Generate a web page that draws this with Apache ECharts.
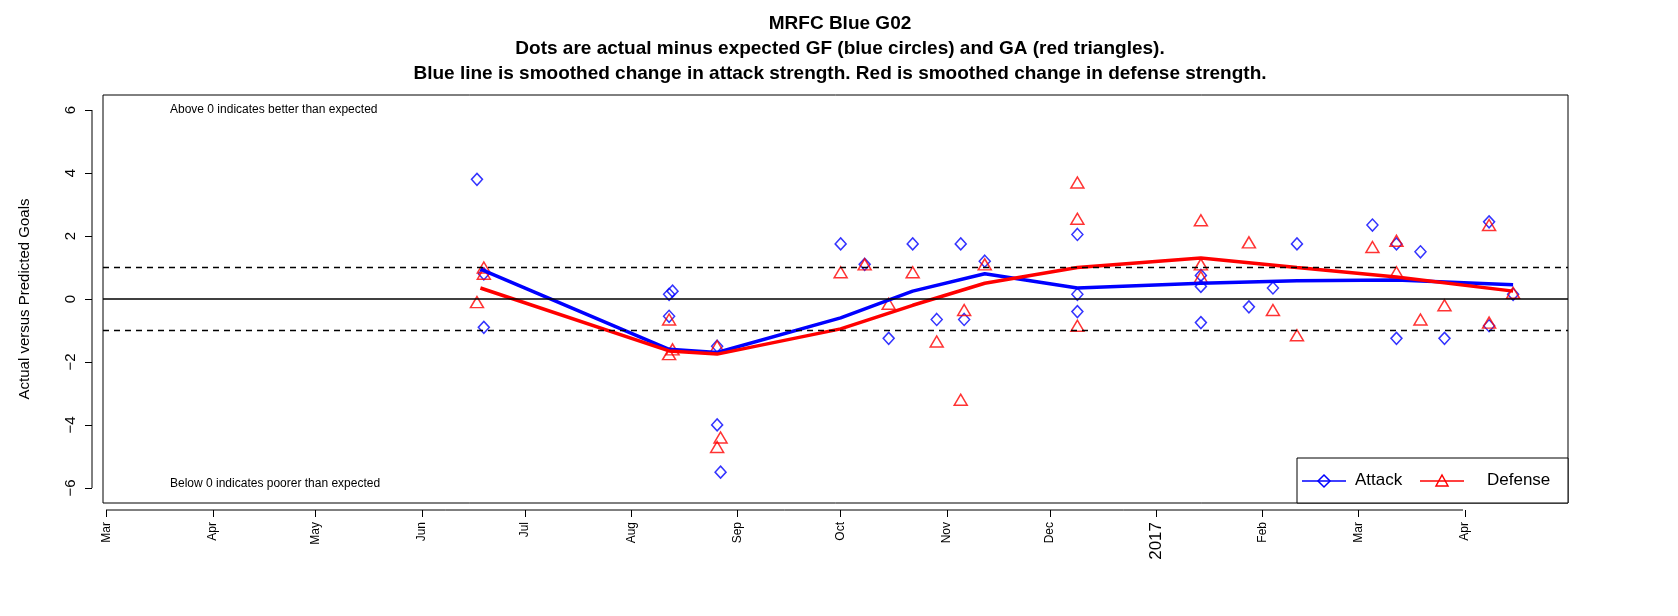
<!DOCTYPE html>
<html><head><meta charset="utf-8">
<script src="https://cdn.jsdelivr.net/npm/echarts@6/dist/echarts.min.js"></script>
<style>html,body{margin:0;padding:0;background:#fff}#c{width:1678px;height:616px}</style>
</head><body><div id="c"></div>
<script>
// game dates with actual minus expected GF (attack) and GA (defense)
const gameDates = ["2016-06-17","2016-06-19","2016-06-19","2016-08-12","2016-08-13","2016-08-12",
  "2016-08-26","2016-08-27","2016-08-26","2016-10-01","2016-10-08","2016-10-15","2016-10-22","2016-10-29",
  "2016-11-05","2016-11-06","2016-11-12","2016-12-09","2016-12-09","2016-12-09",
  "2017-01-14","2017-01-14","2017-01-14","2017-01-28","2017-02-04","2017-02-11",
  "2017-03-05","2017-03-12","2017-03-12","2017-03-19","2017-03-26","2017-04-08","2017-04-08","2017-04-15"];
const attack = [3.8,0.8,-0.9,0.15,0.25,-0.55,-4.0,-5.5,-1.5,1.75,1.1,-1.25,1.75,-0.65,
  1.75,-0.65,1.2,2.05,0.15,-0.4,0.75,0.4,-0.75,-0.25,0.35,1.75,2.35,1.75,-1.25,1.5,-1.25,2.45,-0.85,0.15];
const defense = [-0.1,0.8,1.0,-0.65,-1.6,-1.75,-4.7,-4.4,-1.5,0.85,1.1,-0.15,0.85,-1.35,
  -3.2,-0.35,1.1,3.7,2.55,-0.85,2.5,1.1,0.7,1.8,-0.35,-1.15,1.65,1.85,0.85,-0.65,-0.2,2.35,-0.75,0.2];
const attackSmoothDates = ["2016-06-18","2016-08-12","2016-08-26","2016-10-01","2016-10-22","2016-11-12",
  "2016-12-09","2017-01-14","2017-02-11","2017-03-12","2017-04-15"];
const attackSmooth = [0.95,-1.6,-1.7,-0.6,0.25,0.8,0.35,0.5,0.58,0.6,0.45];
const defenseSmoothDates = ["2016-06-18","2016-08-12","2016-08-26","2016-10-01","2016-10-22","2016-11-12",
  "2016-12-09","2017-01-14","2017-01-28","2017-02-11","2017-03-12","2017-04-15"];
const defenseSmooth = [0.35,-1.65,-1.75,-0.95,-0.2,0.5,1.0,1.3,1.15,1.0,0.7,0.25];
const monthTicks = ["2016-03-01","2016-04-01","2016-05-01","2016-06-01","2016-07-01","2016-08-01",
  "2016-09-01","2016-10-01","2016-11-01","2016-12-01","2017-01-01","2017-02-01","2017-03-01","2017-04-01"];
const monthLabels = ["Mar","Apr","May","Jun","Jul","Aug","Sep","Oct","Nov","Dec","2017","Feb","Mar","Apr"];
const yTicks = [-6,-4,-2,0,2,4,6];

// days since 2016-03-01
const t0 = Date.parse("2016-03-01T00:00:00Z");
const t = s => (Date.parse(s + "T00:00:00Z") - t0) / 86400000;
const xTicks = monthTicks.map(t);
const F = "Liberation Sans";
const chart = echarts.init(document.getElementById("c"));
chart.setOption({
  animation: false,
  backgroundColor: "#fff",
  textStyle: { fontFamily: F },
  title: {
    text: "MRFC Blue G02\nDots are actual minus expected GF (blue circles) and GA (red triangles).\nBlue line is smoothed change in attack strength. Red is smoothed change in defense strength.",
    left: 835, top: 6, textAlign: "center",
    textStyle: { fontFamily: F, fontSize: 19, fontWeight: "bold", lineHeight: 25, color: "#000" }
  },
  grid: { left: 103, right: 110, top: 95, bottom: 113, show: true, borderColor: "#000", borderWidth: 1 },
  xAxis: {
    type: "value", min: -1, max: 426, offset: 7,
    splitLine: { show: false }, axisLine: { show: false, onZero: false },
    axisTick: { show: true, length: 7, customValues: xTicks, lineStyle: { color: "#000" } },
    axisLabel: {
      customValues: xTicks, rotate: 90, margin: 12, color: "#000", fontSize: 12,
      formatter: v => {
        const i = xTicks.indexOf(v);
        return i === 10 ? "{b|2017}" : monthLabels[i];
      },
      rich: { b: { fontSize: 17, color: "#000" } }
    }
  },
  yAxis: {
    type: "value", min: -6.48, max: 6.48, offset: 11,
    name: "Actual versus Predicted Goals", nameLocation: "middle", nameGap: 60,
    nameTextStyle: { fontSize: 15, color: "#000" },
    splitLine: { show: false }, axisLine: { show: false, onZero: false },
    axisTick: { show: true, length: 7, customValues: yTicks, lineStyle: { color: "#000" } },
    axisLabel: { customValues: yTicks, rotate: 90, margin: 14, fontSize: 15, color: "#000",
      formatter: v => String(v).replace("-", "\u2212") }
  },
  series: [
    { type: "line", data: [], markLine: { silent: true, symbol: "none", label: { show: false },
      data: [
        { yAxis: 0, lineStyle: { type: "solid", color: "#000", width: 1.5 } },
        { yAxis: 1, lineStyle: { type: [6, 5], color: "#000", width: 1.3 } },
        { yAxis: -1, lineStyle: { type: [6, 5], color: "#000", width: 1.3 } }
      ] } },
    { type: "scatter", data: gameDates.map((d, i) => [t(d), attack[i]]), symbol: "diamond", symbolSize: [11, 12],
      itemStyle: { color: "rgba(0,0,0,0)", borderColor: "#0000ff", borderWidth: 1.5 } },
    { type: "scatter", data: gameDates.map((d, i) => [t(d), defense[i]]), symbol: "triangle", symbolSize: [13, 11],
      itemStyle: { color: "rgba(0,0,0,0)", borderColor: "#ff0000", borderWidth: 1.5 } },
    { type: "line", data: attackSmoothDates.map((d, i) => [t(d), attackSmooth[i]]), showSymbol: false,
      lineStyle: { color: "#0000ff", width: 3.5 } },
    { type: "line", data: defenseSmoothDates.map((d, i) => [t(d), defenseSmooth[i]]), showSymbol: false,
      lineStyle: { color: "#ff0000", width: 3.5 } }
  ],
  graphic: [
    { type: "line", shape: { x1: 92, y1: 110, x2: 92, y2: 488 }, style: { stroke: "#000", lineWidth: 1 } },
    { type: "line", shape: { x1: 106, y1: 510, x2: 1463, y2: 510 }, style: { stroke: "#000", lineWidth: 1 } },
    { type: "text", left: 170, top: 104, style: { text: "Above 0 indicates better than expected", font: "12px " + F, fill: "#000" } },
    { type: "text", left: 170, top: 478, style: { text: "Below 0 indicates poorer than expected", font: "12px " + F, fill: "#000" } },
    { type: "rect", shape: { x: 1297, y: 458, width: 271, height: 45 }, style: { fill: "#fff", stroke: "#000", lineWidth: 1 } },
    { type: "line", shape: { x1: 1302, y1: 481, x2: 1346, y2: 481 }, style: { stroke: "#0000ff", lineWidth: 1.5 } },
    { type: "polygon", shape: { points: [[1324, 475], [1330, 481], [1324, 487], [1318, 481]] }, style: { fill: "none", stroke: "#0000ff", lineWidth: 1.5 } },
    { type: "text", left: 1355, top: 472, style: { text: "Attack", font: "17px " + F, fill: "#000" } },
    { type: "line", shape: { x1: 1420, y1: 481, x2: 1464, y2: 481 }, style: { stroke: "#ff0000", lineWidth: 1.5 } },
    { type: "polygon", shape: { points: [[1442, 475], [1448, 486], [1436, 486]] }, style: { fill: "none", stroke: "#ff0000", lineWidth: 1.5 } },
    { type: "text", left: 1487, top: 472, style: { text: "Defense", font: "17px " + F, fill: "#000" } }
  ]
});
</script></body></html>
